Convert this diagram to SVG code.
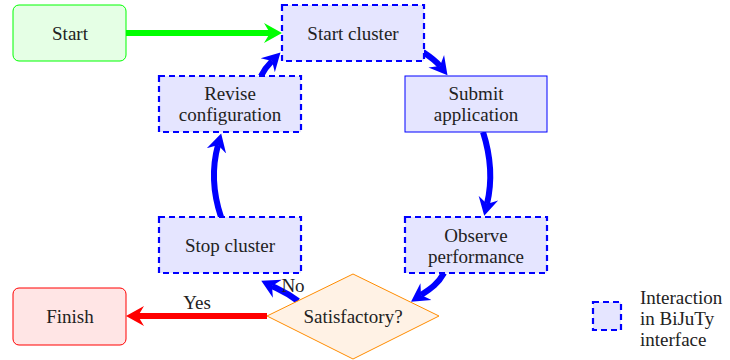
<svg xmlns="http://www.w3.org/2000/svg" width="730" height="360" viewBox="0 0 730 360">
<style>
.t{font-family:'Liberation Serif','Times New Roman',serif;font-size:19px;fill:#222;text-anchor:middle;dominant-baseline:central}
.l{text-anchor:start}
.ib{fill:#e5e5ff;stroke:#0000ff;stroke-width:2.2;stroke-dasharray:6,4}
.cn{fill:none;stroke-width:6}
.b{stroke:#0000ff}
</style>
<defs>
<marker id="mb" markerUnits="userSpaceOnUse" viewBox="-6 -11 19 22" markerWidth="19" markerHeight="22" refX="0" refY="0" orient="auto"><path d="M-6,-10 L12,0 L-6,10 L0,0 Z" fill="#0000ff"/></marker>
<marker id="mg" markerUnits="userSpaceOnUse" viewBox="-6 -11 19 22" markerWidth="19" markerHeight="22" refX="0" refY="0" orient="auto"><path d="M-6,-10 L12,0 L-6,10 L0,0 Z" fill="#00ff00"/></marker>
<marker id="mr" markerUnits="userSpaceOnUse" viewBox="-6 -11 19 22" markerWidth="19" markerHeight="22" refX="0" refY="0" orient="auto"><path d="M-6,-10 L12,0 L-6,10 L0,0 Z" fill="#ff0000"/></marker>
</defs>
<g id="connectors">
<path class="cn" stroke="#00ff00" d="M126,33 L270,33" marker-end="url(#mg)"/>
<path class="cn b" d="M423,52 C432,58 436,61 440,66" marker-end="url(#mb)"/>
<path class="cn b" d="M483,132 C492,160 492,183 487,204" marker-end="url(#mb)"/>
<path class="cn b" d="M444,273 C438,284 430,289 421,295" marker-end="url(#mb)"/>
<path class="cn b" d="M298,301 C286,292 280,290 272,286" marker-end="url(#mb)"/>
<path class="cn b" d="M221,217 C212,190 212,167 218,145" marker-end="url(#mb)"/>
<path class="cn b" d="M261,76 C264,70 267,66 272,61" marker-end="url(#mb)"/>
<path class="cn" stroke="#ff0000" d="M267,316 L138,316" marker-end="url(#mr)"/>
<text class="t" x="197" y="302">Yes</text>
<text class="t" x="293" y="285">No</text>
</g>
<g id="start"><rect x="13" y="5" width="113" height="56" rx="6" fill="#e5ffe5" stroke="#00ff00" stroke-width="1"/><text class="t" x="70" y="33">Start</text></g>
<g id="start-cluster"><rect class="ib" x="282" y="5" width="142" height="56"/><text class="t" x="353" y="33">Start cluster</text></g>
<g id="revise"><rect class="ib" x="159" y="76" width="142" height="56"/><text class="t" x="230" y="93">Revise</text><text class="t" x="230" y="114">configuration</text></g>
<g id="submit"><rect x="405" y="76" width="142" height="56" fill="#e5e5ff" stroke="#0000ff" stroke-width="1"/><text class="t" x="476" y="93">Submit</text><text class="t" x="476" y="114">application</text></g>
<g id="stop-cluster"><rect class="ib" x="159" y="217" width="142" height="56"/><text class="t" x="230" y="245">Stop cluster</text></g>
<g id="observe"><rect class="ib" x="405" y="217" width="142" height="56"/><text class="t" x="476" y="235">Observe</text><text class="t" x="476" y="256">performance</text></g>
<g id="satisfactory"><polygon points="267,316 353,274 439,316 353,359" fill="#fff2e5" stroke="#ff8c00" stroke-width="1"/><text class="t" x="353" y="316">Satisfactory?</text></g>
<g id="finish"><rect x="13" y="288" width="113" height="57" rx="6" fill="#ffe5e5" stroke="#ff0000" stroke-width="1"/><text class="t" x="70" y="316">Finish</text></g>
<g id="legend"><rect class="ib" x="593" y="302" width="28" height="28"/>
<text class="t l" x="640" y="297">Interaction</text>
<text class="t l" x="640" y="318">in BiJuTy</text>
<text class="t l" x="640" y="339">interface</text></g>
</svg>
